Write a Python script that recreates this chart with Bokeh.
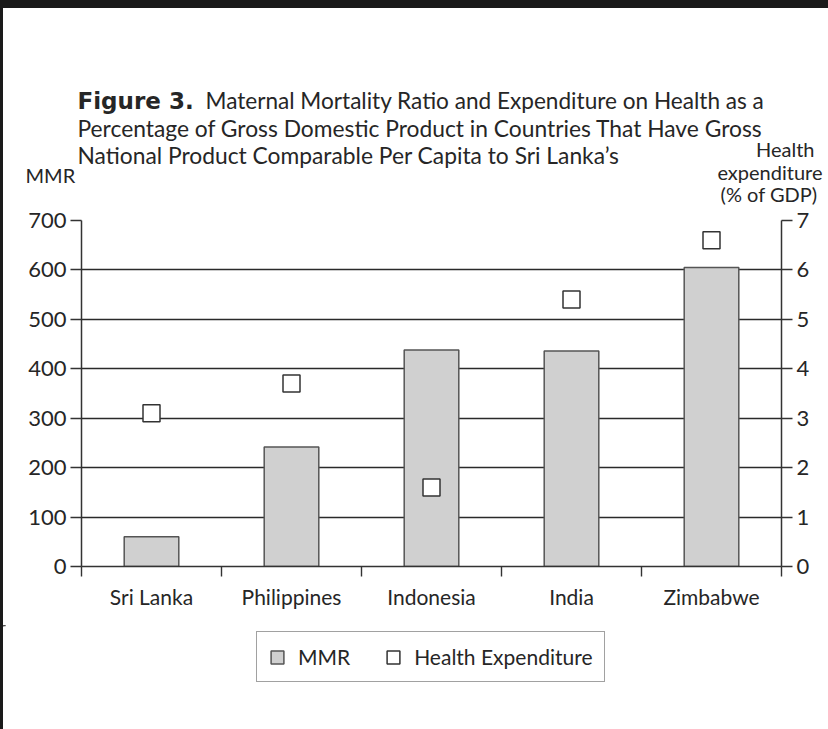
from bokeh.plotting import figure
from bokeh.models import (Range1d, LinearAxis, FixedTicker, Legend, LegendItem, ColumnDataSource, Spacer)
from bokeh.layouts import column, row
from bokeh.core.properties import value
from bokeh.embed import file_html
from bokeh.resources import INLINE

# ---- data ----
categories = ["Sri Lanka", "Philippines", "Indonesia", "India", "Zimbabwe"]
mmr = [60, 242, 438, 436, 605]
health_exp = [3.1, 3.7, 1.6, 5.4, 6.6]
mmr_ticks = [0, 100, 200, 300, 400, 500, 600, 700]
health_ticks = [0, 1, 2, 3, 4, 5, 6, 7]

FONT = "Lato"
TXT = "#262626"
W = 825  # content width (page x 3..828)

BAR_STYLE = dict(fill_color="#d0d0d0", line_color="#555555", line_width=1.5)
SQ_STYLE = dict(marker="square", size=17, fill_color="white", line_color="#333333", line_width=1.5)

xpos = [i + 0.5 for i in range(len(categories))]
src = ColumnDataSource(dict(x=xpos, mmr=mmr, health=health_exp))

# ---------------- header (title + axis titles) ----------------
hdr = figure(width=W, height=197, output_backend="svg", toolbar_location=None,
             x_range=Range1d(3, 3 + W), y_range=Range1d(8 + 197, 8),
             x_axis_type=None, y_axis_type=None, min_border=0)
hdr.outline_line_color = None
hdr.xgrid.visible = False
hdr.ygrid.visible = False
hdr.frame_align = False

def htext(t, x, y, size, align="left", style="normal", font=FONT):
    hdr.text(x=[x], y=[y], text=[t], text_font=value(font), text_font_size=value(size),
             text_color=TXT, text_align=align, text_baseline="middle",
             text_font_style=style)

htext("Figure 3.", 77, 100, "23px", style="bold", font="DejaVu Sans")
htext("Maternal Mortality Ratio and Expenditure on Health as a", 205, 100, "22.6px")
htext("Percentage of Gross Domestic Product in Countries That Have Gross", 77, 127, "22.8px")
htext("National Product Comparable Per Capita to Sri Lanka\u2019s", 77, 154, "22.8px")
htext("MMR", 25, 174, "20px")
htext("Health", 814, 148, "20px", align="right")
htext("expenditure", 822, 171, "20px", align="right")
htext("(% of GDP)", 817, 193, "20px", align="right")

# ---------------- main chart ----------------
p = figure(width=W, height=420, output_backend="svg", toolbar_location=None,
           x_range=Range1d(0, len(categories)), y_range=Range1d(0, 700),
           min_border_left=78, min_border_right=47, min_border_top=15, min_border_bottom=59)
p.outline_line_color = None
p.frame_align = False
p.extra_y_ranges = {"health": Range1d(0, 7)}

p.xgrid.visible = False
p.ygrid.ticker = FixedTicker(ticks=mmr_ticks)
p.ygrid.grid_line_color = "#2a2a2a"
p.ygrid.grid_line_width = 1.4

p.yaxis.ticker = FixedTicker(ticks=mmr_ticks)
ax_l = p.yaxis[0]
right = LinearAxis(y_range_name="health", ticker=FixedTicker(ticks=health_ticks))
p.add_layout(right, "right")
for ax in (ax_l, right):
    ax.axis_line_color = "#333333"
    ax.axis_line_width = 1.5
    ax.major_tick_line_color = "#333333"
    ax.major_tick_line_width = 1.4
    ax.major_tick_out = 11
    ax.major_tick_in = 0
    ax.minor_tick_line_color = None
    ax.major_label_text_font = FONT
    ax.major_label_text_font_size = "22px"
    ax.major_label_text_color = TXT
    ax.major_label_standoff = 4

xax = p.xaxis[0]
xax.ticker = FixedTicker(ticks=xpos, minor_ticks=list(range(len(categories) + 1)))
xax.major_label_overrides = {x: c for x, c in zip(xpos, categories)}
xax.major_tick_out = 0
xax.major_tick_in = 0
xax.minor_tick_out = 10
xax.minor_tick_in = 0
xax.minor_tick_line_color = "#333333"
xax.minor_tick_line_width = 1.4
xax.axis_line_color = "#333333"
xax.axis_line_width = 1.5
xax.major_label_text_font = FONT
xax.major_label_text_font_size = "21px"
xax.major_label_text_color = TXT
xax.major_label_standoff = 7

p.vbar(x="x", top="mmr", width=0.39, bottom=0, source=src, **BAR_STYLE)
p.scatter(x="x", y="health", source=src, y_range_name="health", **SQ_STYLE)

# ---------------- legend strip ----------------
lg = figure(width=W, height=104, output_backend="svg", toolbar_location=None,
            x_range=Range1d(3, 3 + W), y_range=Range1d(729, 625),
            x_axis_type=None, y_axis_type=None, min_border=0)
lg.outline_line_color = None
lg.xgrid.visible = False
lg.ygrid.visible = False
lg.frame_align = False
# legend keys: same series, drawn outside this strip's visible range
lb = lg.vbar(x="x", top="mmr", width=0.39, bottom=0, source=src, **BAR_STYLE)
ls = lg.vbar(x="x", top="mmr", width=0.39, bottom=0, source=src,
             fill_color="white", line_color="#333333", line_width=1.5)

legend = Legend(items=[LegendItem(label="MMR", renderers=[lb]),
                       LegendItem(label="Health Expenditure", renderers=[ls])],
                orientation="horizontal", location=(253, 47),
                label_text_font=FONT, label_text_font_size="21px", label_text_color=TXT,
                glyph_width=16, glyph_height=16, label_standoff=13, spacing=35,
                padding=12, margin=0, border_line_color="#444444", border_line_width=1.5,
                background_fill_color="white", background_fill_alpha=1.0)
lg.add_layout(legend, "center")

body = column(hdr, p, lg, spacing=0, styles={"border-top": "8px solid #1a1a1a"})
rule = Spacer(width=3, height=729, styles={"background-color": "#1a1a1a"})
layout = row(rule, body, spacing=0)

open("out.html", "w").write(file_html(layout, INLINE))
